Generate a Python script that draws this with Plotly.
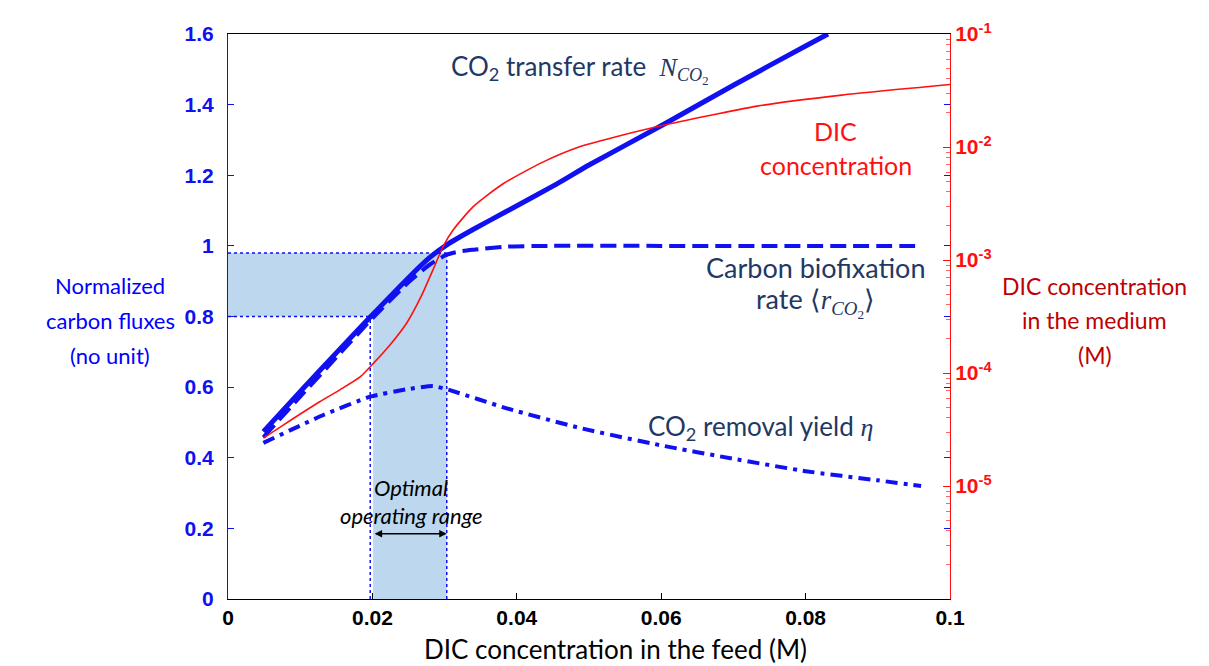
import plotly.graph_objects as go

# feed DIC concentration (M) and normalized fluxes
x_transfer = [0.0049, 0.0104, 0.015, 0.0194, 0.0257, 0.028, 0.0303, 0.034, 0.0386, 0.0455, 0.05, 0.06, 0.07, 0.08, 0.0831]
transfer_rate = [0.474, 0.596, 0.697, 0.792, 0.924, 0.968, 1.003, 1.047, 1.098, 1.175, 1.229, 1.34, 1.455, 1.566, 1.60]

x_fix = [0.0049, 0.01, 0.015, 0.02, 0.025, 0.028, 0.0303, 0.032, 0.034, 0.0386, 0.045, 0.06, 0.08, 0.096]
biofixation = [0.458, 0.573, 0.684, 0.795, 0.897, 0.948, 0.975, 0.984, 0.989, 0.998, 1.0, 1.0, 1.0, 1.0]

x_yield = [0.0049, 0.0132, 0.0197, 0.0248, 0.0284, 0.0303, 0.0386, 0.0488, 0.06, 0.07, 0.08, 0.09, 0.096]
removal_yield = [0.442, 0.521, 0.573, 0.594, 0.603, 0.594, 0.54, 0.484, 0.435, 0.397, 0.362, 0.336, 0.32]

# DIC concentration in the medium (M)
x_dic = [0.0049, 0.0077, 0.0127, 0.0155, 0.0183, 0.0201, 0.0224, 0.0248, 0.0268, 0.0284, 0.0298,
         0.0312, 0.034, 0.0381, 0.0436, 0.0486, 0.0535, 0.06, 0.0733, 0.085, 0.1]
dic_medium = [2.65e-5, 3.48e-5, 5.57e-5, 7.10e-5, 9.23e-5, 1.21e-4, 1.76e-4, 2.80e-4, 4.83e-4, 8.22e-4,
              1.32e-3, 1.85e-3, 2.98e-3, 4.73e-3, 7.35e-3, 1.0e-2, 1.22e-2, 1.54e-2, 2.30e-2, 2.88e-2, 3.57e-2]

left_ticks = [0, 0.2, 0.4, 0.6, 0.8, 1, 1.2, 1.4, 1.6]
left_labels = ["0", "0.2", "0.4", "0.6", "0.8", "1", "1.2", "1.4", "1.6"]
x_ticks = [0, 0.02, 0.04, 0.06, 0.08, 0.1]
x_labels = ["0", "0.02", "0.04", "0.06", "0.08", "0.1"]
right_ticks = [1e-5, 1e-4, 1e-3, 1e-2, 1e-1]
right_labels = ["10<sup>-5</sup>", "10<sup>-4</sup>", "10<sup>-3</sup>", "10<sup>-2</sup>", "10<sup>-1</sup>"]
right_minor = [m * 10.0 ** e for e in range(-6, -1) for m in range(2, 10)]

# optimal operating range
opt_lo, opt_hi = 0.0197, 0.0303
flux_lo, flux_hi = 0.8, 0.98

BLUE = "#1010f0"
RED = "#ff1010"
NAVY = "#1f3864"
DARKRED = "#c00000"
TXT = "Lato"
MATH = "font-family:Liberation Serif"

fig = go.Figure()

fig.add_trace(go.Scatter(x=x_transfer, y=transfer_rate, mode="lines", line_shape="spline",
                         line=dict(color=BLUE, width=5, smoothing=0.5), yaxis="y"))
fig.add_trace(go.Scatter(x=x_fix, y=biofixation, mode="lines", line_shape="spline",
                         line=dict(color=BLUE, width=4, dash="16px,7px", smoothing=0.5), yaxis="y"))
fig.add_trace(go.Scatter(x=x_yield, y=removal_yield, mode="lines", line_shape="spline",
                         line=dict(color=BLUE, width=4, dash="12px,6px,4px,6px", smoothing=0.5), yaxis="y"))
fig.add_trace(go.Scatter(x=x_dic, y=dic_medium, mode="lines", line_shape="spline",
                         line=dict(color=RED, width=1.6, smoothing=0.6), yaxis="y2"))

shade = "#bdd7ee"
fig.add_shape(type="rect", x0=opt_lo + 0.0004, x1=opt_hi, y0=0, y1=flux_hi, xref="x", yref="y",
              fillcolor=shade, line_width=0, layer="below")
fig.add_shape(type="rect", x0=0, x1=opt_hi, y0=flux_lo, y1=flux_hi, xref="x", yref="y",
              fillcolor=shade, line_width=0, layer="below")
dot = dict(color=BLUE, width=1.5, dash="dot")
fig.add_shape(type="line", x0=0, x1=opt_hi, y0=flux_hi, y1=flux_hi, xref="x", yref="y", line=dot)
fig.add_shape(type="line", x0=0, x1=opt_lo, y0=flux_lo, y1=flux_lo, xref="x", yref="y", line=dot)
fig.add_shape(type="line", x0=opt_lo, x1=opt_lo, y0=0, y1=flux_lo, xref="x", yref="y", line=dot)
fig.add_shape(type="line", x0=opt_hi, x1=opt_hi, y0=0, y1=flux_hi, xref="x", yref="y", line=dot)

# double arrow
fig.add_annotation(x=opt_hi, y=0.185, ax=opt_lo + 0.0004, ay=0.185, xref="x", yref="y",
                   axref="x", ayref="y", text="", showarrow=True, arrowhead=2, arrowside="end+start",
                   arrowsize=1, arrowwidth=1.5, arrowcolor="black")

N_CO2 = "<span style=\"" + MATH + "\"><i>N</i><sub><i>CO</i><sub>2</sub></sub></span>"
R_CO2 = "<span style=\"" + MATH + "\">⟨<i>r</i><sub><i>CO</i><sub>2</sub></sub>⟩</span>"
ann = [
    (0.0254, 0.315, "<i>Optimal</i>", "black", 22),
    (0.0254, 0.236, "<i>operating range</i>", "black", 22),
    (0.0487, 1.50, "CO<sub>2</sub> transfer rate  " + N_CO2, NAVY, 26),
    (0.0842, 1.325, "DIC", RED, 25),
    (0.0842, 1.23, "concentration", RED, 25),
    (0.0814, 0.94, "Carbon biofixation", NAVY, 27),
    (0.0814, 0.842, "rate " + R_CO2, NAVY, 27),
    (0.0737, 0.485, "CO<sub>2</sub> removal yield <span style=\"" + MATH + "\"><i>η</i></span>", NAVY, 26),
]
for x, y, t, c, s in ann:
    fig.add_annotation(x=x, y=y, xref="x", yref="y", text=t, showarrow=False,
                       font=dict(family=TXT, size=s, color=c), align="center")

side_titles = [
    (-0.1634, ["Normalized", "carbon fluxes", "(no unit)"], "#0000ff", 22),
    (1.2008, ["DIC concentration", "in the medium", "(M)"], DARKRED, 23),
]
for x, lines, c, s in side_titles:
    for i, t in enumerate(lines):
        fig.add_annotation(x=x, y=(599 - 283 - 35 * i) / 570, xref="paper", yref="paper",
                           showarrow=False, text=t, xanchor="center", yanchor="middle",
                           font=dict(family=TXT, size=s, color=c))
fig.add_annotation(x=0.537, y=(599 - 649) / 570, xref="paper", yref="paper", showarrow=False,
                   text="DIC concentration in the feed (M)", xanchor="center", yanchor="middle",
                   font=dict(family=TXT, size=26, color="black"))

bold = dict(family="Liberation Sans", size=21, weight="bold")
fig.update_layout(
    width=1201, height=658,
    margin=dict(l=220, r=259, t=21, b=67),
    plot_bgcolor="white", paper_bgcolor="white",
    showlegend=False,
    xaxis=dict(range=[0, 0.1], tickvals=x_ticks, ticktext=x_labels, ticks="inside", ticklen=6,
               tickcolor="black", showline=True, linecolor="black", linewidth=1, mirror=True,
               showgrid=False, zeroline=False, tickfont=dict(bold, color="black")),
    yaxis=dict(range=[0, 1.6], tickvals=left_ticks, ticktext=left_labels, ticks="inside", ticklen=6,
               tickcolor=BLUE, showline=True, linecolor=BLUE, linewidth=1, showgrid=False,
               zeroline=False, tickfont=dict(bold, color=BLUE), ticklabelstandoff=9),
    yaxis2=dict(type="log", range=[-6, -1], overlaying="y", side="right", tickvals=right_ticks,
                ticktext=right_labels, ticks="inside", ticklen=7, tickcolor=RED, showline=True,
                linecolor=RED, linewidth=1, showgrid=False, zeroline=False,
                tickfont=dict(family="Liberation Sans", size=21, weight="bold", color=RED),
                minor=dict(tickvals=right_minor, ticks="inside", ticklen=4, tickcolor="#ff6060",
                           showgrid=False)),
    yaxis3=dict(range=[0, 1.6], overlaying="y", side="right", tickvals=left_ticks[1:-1],
                showticklabels=False, ticks="inside", ticklen=6, tickcolor=BLUE, showline=False,
                showgrid=False, zeroline=False),
)
fig.add_trace(go.Scatter(x=[None], y=[None], yaxis="y3", hoverinfo="skip"))

fig.write_html("out.html")
